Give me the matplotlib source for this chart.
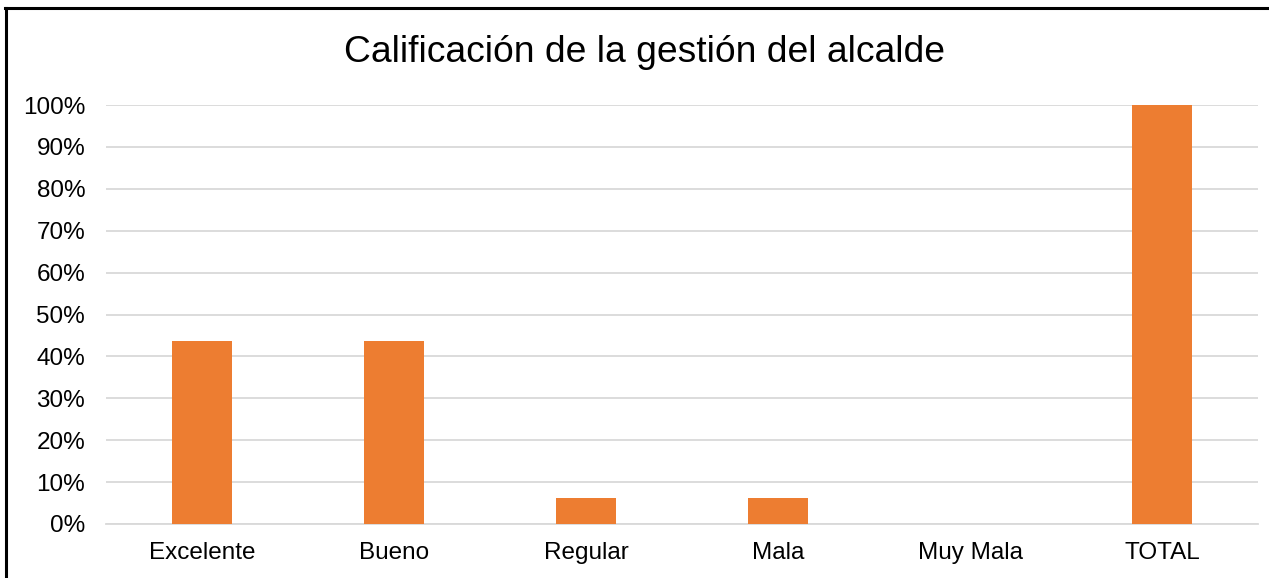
import matplotlib
matplotlib.use("Agg")
import matplotlib.pyplot as plt
from matplotlib.ticker import PercentFormatter
from matplotlib.lines import Line2D

categories = ["Excelente", "Bueno", "Regular", "Mala", "Muy Mala", "TOTAL"]
values = [0.4375, 0.4375, 0.0625, 0.0625, 0.0, 1.0]
yticks = [i / 10 for i in range(11)]
title = "Calificación de la gestión del alcalde"

plt.rcParams['font.family'] = ['Liberation Sans', 'DejaVu Sans']

W, H = 1269, 578
fig = plt.figure(figsize=(W / 100, H / 100), dpi=100)
ax = fig.add_axes([106 / W, 54 / H, (1258 - 106) / W, (524 - 105) / H])

x = list(range(len(categories)))
ax.bar(x, values, width=0.31, color="#ED7D31", zorder=3)
ax.set_xlim(-0.5, len(categories) - 0.5)
ax.set_ylim(0, 1)
ax.set_yticks(yticks)
ax.yaxis.set_major_formatter(PercentFormatter(1.0, decimals=0))
ax.set_xticks(x)
ax.set_xticklabels(categories)
ax.grid(axis="y", color="#D9D9D9", linewidth=1.3, zorder=0)
for s in ["top", "right", "left"]:
    ax.spines[s].set_visible(False)
ax.spines["bottom"].set_color("#D9D9D9")
ax.spines["bottom"].set_linewidth(1.3)
ax.tick_params(axis="both", length=0, labelsize=17.5, colors="black")
ax.tick_params(axis="y", pad=15)
ax.tick_params(axis="x", pad=13)

fig.text(645 / W, 1 - 53 / H, title, ha="center", va="center", fontsize=26.8)

fig.add_artist(Line2D([6 / W, 6 / W], [0, 1 - 8 / H], color="black", linewidth=2.2, transform=fig.transFigure))
fig.add_artist(Line2D([5 / W, 1], [1 - 8 / H, 1 - 8 / H], color="black", linewidth=2.2, transform=fig.transFigure))

fig.savefig("out.png", dpi=100)
